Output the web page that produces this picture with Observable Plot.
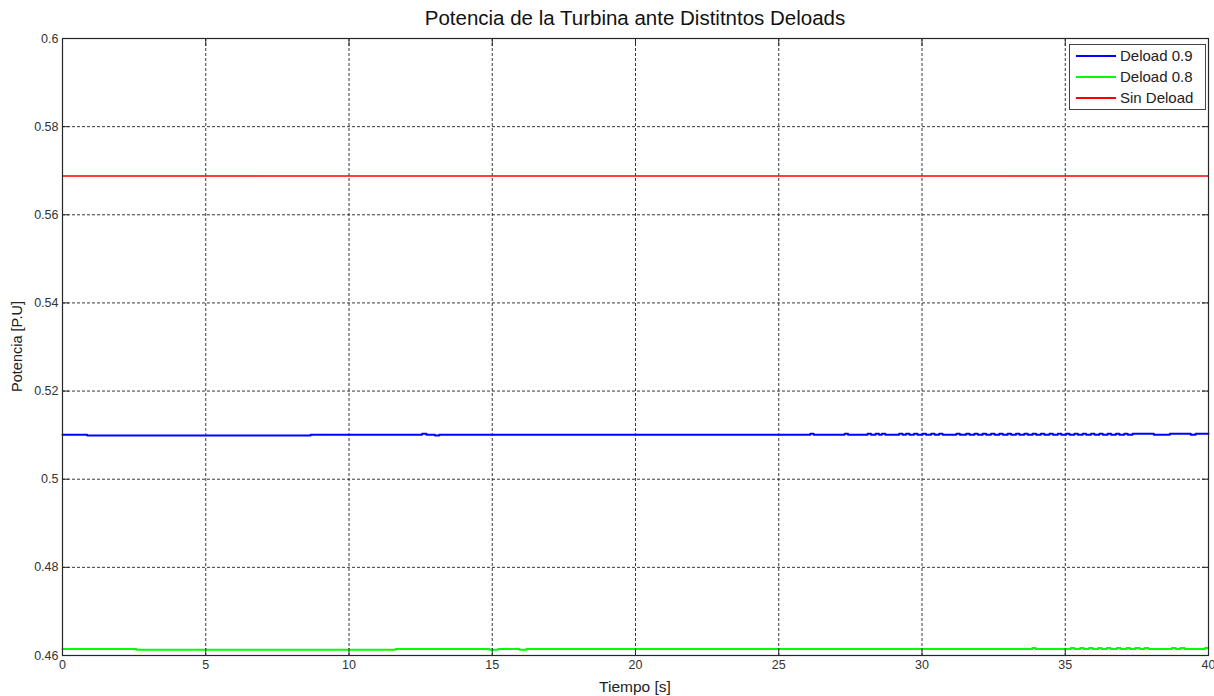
<!DOCTYPE html>
<html>
<head>
<meta charset="utf-8">
<script src="https://cdn.jsdelivr.net/npm/d3@7"></script>
<script src="https://cdn.jsdelivr.net/npm/@observablehq/plot@0.6"></script>
<style>
  html, body { margin: 0; padding: 0; background: #fff; }
  #chart svg { display: block; }
</style>
</head>
<body>
<div id="chart"></div>
<script>
const chartTitle = "Potencia de la Turbina ante Distitntos Deloads";
const xLabel = "Tiempo [s]";
const yLabel = "Potencia [P.U]";
const xTicks = [0, 5, 10, 15, 20, 25, 30, 35, 40];
const yTicks = [0.46, 0.48, 0.5, 0.52, 0.54, 0.56, 0.58, 0.6];
const seriesNames = ["Deload 0.9", "Deload 0.8", "Sin Deload"];
const seriesColors = ["#0000ff", "#00ff00", "#ff0000"];

// [time (s), power (P.U)] step samples
const deload09 = [
  [0, 0.5101], [0.86, 0.5099], [8.66, 0.5101], [12.55, 0.5103], [12.7, 0.5101],
  [13.0, 0.5099], [13.15, 0.5101], [26.1, 0.5103], [26.22, 0.5101], [27.3, 0.5103],
  [27.42, 0.5101], [28.1, 0.5103], [28.22, 0.5101], [28.38, 0.5103], [28.5, 0.5101],
  [28.6, 0.5103], [28.72, 0.5101], [29.2, 0.5103], [29.32, 0.5101], [29.44, 0.5103],
  [29.56, 0.5101], [29.72, 0.5103], [29.84, 0.5101], [30.02, 0.5103], [30.14, 0.5101],
  [30.32, 0.5103], [30.44, 0.5101], [30.6, 0.5103], [30.72, 0.5101], [31.2, 0.5103],
  [31.32, 0.5101], [31.54, 0.5103], [31.66, 0.5101], [31.83, 0.5103], [31.95, 0.5101],
  [32.12, 0.5103], [32.24, 0.5101], [32.41, 0.5103], [32.53, 0.5101], [32.7, 0.5103],
  [32.82, 0.5101], [32.99, 0.5103], [33.11, 0.5101], [33.28, 0.5103], [33.4, 0.5101],
  [33.57, 0.5103], [33.69, 0.5101], [33.86, 0.5103], [33.98, 0.5101], [34.15, 0.5103],
  [34.27, 0.5101], [34.45, 0.5103], [34.57, 0.5101], [34.74, 0.5103], [34.86, 0.5101],
  [35.03, 0.5103], [35.15, 0.5101], [35.32, 0.5103], [35.44, 0.5101], [35.61, 0.5103],
  [35.73, 0.5101], [35.9, 0.5103], [36.02, 0.5101], [36.19, 0.5103], [36.31, 0.5101],
  [36.48, 0.5103], [36.6, 0.5101], [36.77, 0.5103], [36.89, 0.5101], [37.06, 0.5103],
  [37.18, 0.5101], [37.35, 0.5103], [38.09, 0.5101], [38.65, 0.5103], [39.38, 0.5101],
  [39.55, 0.5103], [40, 0.5103]
];
const deload08 = [
  [0, 0.4615], [2.58, 0.4613], [11.63, 0.4615], [14.9, 0.4613], [15.2, 0.4615],
  [15.95, 0.4613], [16.2, 0.4615], [33.85, 0.4617], [33.97, 0.4615], [35.2, 0.4617],
  [35.32, 0.4615], [35.52, 0.4617], [35.64, 0.4615], [35.83, 0.4617], [35.95, 0.4615],
  [36.15, 0.4617], [36.27, 0.4615], [36.45, 0.4617], [36.57, 0.4615], [36.8, 0.4617],
  [36.92, 0.4615], [37.14, 0.4617], [37.26, 0.4615], [37.45, 0.4617], [37.6, 0.4615],
  [37.77, 0.4617], [37.9, 0.4615], [38.72, 0.4617], [38.86, 0.4615], [39.02, 0.4617],
  [39.16, 0.4615], [39.88, 0.4617], [40, 0.4617]
];
const sinDeload = [[0, 0.5688], [40, 0.5688]];

const seriesData = [deload09, deload08, sinDeload];
const seriesWidths = [2, 2, 1.5];

const font = "'Liberation Sans', Arial, Helvetica, sans-serif";

const plot = Plot.plot({
  width: 1214,
  height: 696,
  marginLeft: 62,
  marginRight: 6,
  marginTop: 38,
  marginBottom: 41,
  style: { fontFamily: font, fontSize: "12.5px", color: "#262626", background: "#fff" },
  x: { domain: [0, 40] },
  y: { domain: [0.46, 0.6] },
  marks: [
    Plot.gridX(xTicks, { stroke: "#222", strokeOpacity: 0.9, strokeDasharray: "3,2" }),
    Plot.gridY(yTicks, { stroke: "#222", strokeOpacity: 0.9, strokeDasharray: "3,2" }),
    ...seriesData.map((d, i) => Plot.line(d, {
      x: "0", y: "1", curve: "step-after",
      stroke: seriesColors[i], strokeWidth: seriesWidths[i]
    })),
    Plot.frame({ stroke: "#262626", strokeWidth: 1.2 }),
    Plot.axisX(xTicks, { anchor: "bottom", tickSize: -7, tickPadding: 12, label: null, tickFormat: d => String(d), fill: "#333" }),
    Plot.axisX(xTicks, { anchor: "top", tickSize: -7, label: null, tickFormat: () => "" }),
    Plot.axisY(yTicks, { anchor: "left", tickSize: -7, tickPadding: 11, label: null, tickFormat: d => String(d), fill: "#333" }),
    Plot.axisY(yTicks, { anchor: "right", tickSize: -7, label: null, tickFormat: () => "" })
  ]
});

document.getElementById("chart").appendChild(plot);

const svg = d3.select(plot);
const W = 1214, H = 696, mL = 62, mR = 6, mT = 38, mB = 41;
const cx = (mL + (W - mR)) / 2;
const cy = (mT + (H - mB)) / 2;

svg.append("text")
  .attr("x", cx).attr("y", 25)
  .attr("text-anchor", "middle")
  .style("font-family", font).style("font-size", "20.5px").style("fill", "#111")
  .text(chartTitle);

svg.append("text")
  .attr("x", cx).attr("y", 692)
  .attr("text-anchor", "middle")
  .style("font-family", font).style("font-size", "15.5px").style("fill", "#222")
  .text(xLabel);

svg.append("text")
  .attr("transform", `translate(22,${cy}) rotate(-90)`)
  .attr("text-anchor", "middle")
  .style("font-family", font).style("font-size", "14.5px").style("fill", "#222")
  .text(yLabel);

// legend box
const lg = svg.append("g");
lg.append("rect")
  .attr("x", 1069.5).attr("y", 44.5).attr("width", 136).attr("height", 65)
  .attr("fill", "#fff").attr("stroke", "#444").attr("stroke-width", 1);
seriesNames.forEach((name, i) => {
  const yy = 56 + i * 21;
  lg.append("line")
    .attr("x1", 1076).attr("x2", 1116).attr("y1", yy).attr("y2", yy)
    .attr("stroke", seriesColors[i]).attr("stroke-width", 2);
  lg.append("text")
    .attr("x", 1120).attr("y", yy + 5)
    .attr("text-anchor", "start")
    .style("font-family", font).style("font-size", "15px").style("fill", "#222")
    .text(name);
});
</script>
</body>
</html>
